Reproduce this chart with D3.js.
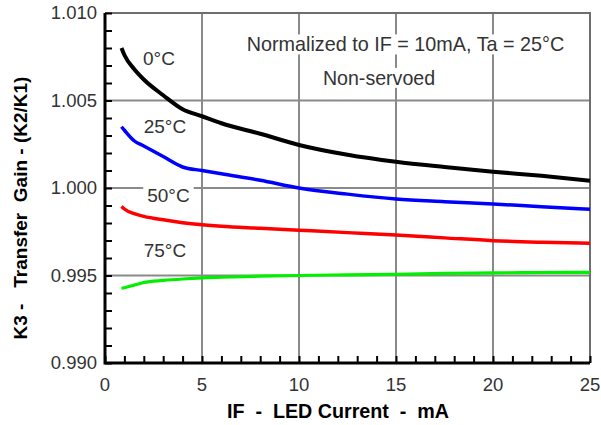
<!DOCTYPE html>
<html><head><meta charset="utf-8">
<script src="https://cdn.jsdelivr.net/npm/d3@7"></script>
<style>
body{margin:0;background:#fff}
svg{display:block}
text{font-family:"Liberation Sans",Arial,Helvetica,sans-serif}
</style>
</head><body>
<svg id="c" width="601" height="425"></svg>
<script>
// ---- data ----
const current = [0.85, 1, 1.5, 2, 3, 4, 5, 6, 8, 10, 12.5, 15, 17.5, 20, 22.5, 25];
const gain0C  = [1.0080, 1.0076, 1.0068, 1.0062, 1.0053, 1.0045, 1.0041, 1.0037, 1.0031, 1.00246, 1.0019, 1.0015, 1.0012, 1.00093, 1.0007, 1.00042];
const gain25C = [1.0035, 1.0033, 1.0027, 1.0024, 1.0018, 1.0012, 1.0010, 1.00081, 1.00044, 1.0000, 0.99965, 0.99937, 0.99922, 0.99909, 0.99893, 0.99878];
const gain50C = [0.99895, 0.9988, 0.99853, 0.99838, 0.99818, 0.99802, 0.9979, 0.99781, 0.9977, 0.99759, 0.99745, 0.99731, 0.99715, 0.99699, 0.9969, 0.99684];
const gain75C = [0.99427, 0.9943, 0.99445, 0.9946, 0.99472, 0.9948, 0.99486, 0.9949, 0.99496, 0.995, 0.99504, 0.99507, 0.99512, 0.99515, 0.99517, 0.99518];
const seriesNames = ["0°C", "25°C", "50°C", "75°C"];
const xTicks = [0, 5, 10, 15, 20, 25];
const yTicks = [0.990, 0.995, 1.000, 1.005, 1.010];
const xTitle = "IF  -  LED Current  -  mA";
const yTitle = "K3 -   Transfer  Gain - (K2/K1)";
const note1 = "Normalized to IF = 10mA, Ta = 25°C";
const note2 = "Non-servoed";

// ---- styling / layout ----
const seriesColors = ["#000000", "#0000ff", "#ff0000", "#00f000"];
const seriesWidths = [4, 3.5, 3.5, 3.2];
const labelPos = [[2.78, 1.00743], [3.09, 1.00351], [3.27, 0.9996], [3.09, 0.99643]];

const svg = d3.select("#c");
const L = 105, R = 590, T = 13, B = 363;
const x = d3.scaleLinear().domain([0, 25]).range([L, R]);
const y = d3.scaleLinear().domain([0.990, 1.010]).range([B, T]);

// grid
const grid = svg.append("g").attr("stroke", "#8a8a8a").attr("stroke-width", 2);
grid.selectAll("line.v").data(xTicks.slice(1, -1)).join("line")
  .attr("x1", d => x(d)).attr("x2", d => x(d)).attr("y1", T).attr("y2", B);
grid.selectAll("line.h").data(yTicks.slice(1, -1)).join("line")
  .attr("y1", d => y(d)).attr("y2", d => y(d)).attr("x1", L).attr("x2", R);

// top/right frame
svg.append("path").attr("d", `M${L},${T}H${R}V${B}`).attr("fill", "none")
  .attr("stroke", "#6e6e6e").attr("stroke-width", 2);

// minor ticks via axes (inward)
const yMinor = d3.range(0, 21).map(i => 0.990 + i * 0.001);
const xMinor = d3.range(0, 26);
const yAx = svg.append("g").attr("transform", `translate(${L},0)`)
  .call(d3.axisLeft(y).tickValues(yMinor).tickSize(-7).tickFormat(""));
yAx.selectAll(".tick line").attr("stroke", "#000").attr("stroke-width", 2);
yAx.select(".domain").remove();
const xAx = svg.append("g").attr("transform", `translate(0,${B})`)
  .call(d3.axisBottom(x).tickValues(xMinor).tickSize(-7).tickFormat(""));
xAx.selectAll(".tick line").attr("stroke", "#000").attr("stroke-width", 2);
xAx.select(".domain").remove();

// left/bottom axis lines
svg.append("path").attr("d", `M${L},${T}V${B}H${R}`).attr("fill", "none")
  .attr("stroke", "#000").attr("stroke-width", 3);

// tick labels
svg.append("g").selectAll("text").data(yTicks).join("text")
  .attr("x", L - 8).attr("y", d => y(d)).attr("dy", "0.35em")
  .attr("text-anchor", "end").attr("font-size", 18.5).attr("fill", "#333")
  .text(d => d3.format(".3f")(d));
svg.append("g").selectAll("text").data(xTicks).join("text")
  .attr("x", d => x(d)).attr("y", B + 28)
  .attr("text-anchor", "middle").attr("font-size", 18.5).attr("fill", "#333")
  .text(d => d);

// axis titles
svg.append("text").attr("x", 338).attr("y", 418).attr("text-anchor", "middle")
  .attr("font-size", 19.7).attr("font-weight", "bold").style("white-space", "pre")
  .text(xTitle);
svg.append("text").attr("transform", "translate(27,208) rotate(-90)")
  .attr("text-anchor", "middle").attr("font-size", 19).attr("font-weight", "bold")
  .style("white-space", "pre").text(yTitle);

// helper: text with white background box
function boxedText(px, py, str, size) {
  const g = svg.append("g");
  const r = g.append("rect").attr("fill", "#fff");
  const t = g.append("text").attr("x", px).attr("y", py).attr("dy", "0.35em")
    .attr("text-anchor", "middle").attr("font-size", size).attr("fill", "#333").text(str);
  const bb = t.node().getBBox();
  r.attr("x", bb.x - 4).attr("y", bb.y + 1).attr("width", bb.width + 8).attr("height", bb.height - 2);
  return g;
}

// annotation
boxedText(405.5, 44.5, note1, 19.8);
boxedText(379, 78, note2, 19.6);

// curves
const seriesData = [gain0C, gain25C, gain50C, gain75C];
const line = d3.line().x(d => x(d[0])).y(d => y(d[1])).curve(d3.curveMonotoneX);
seriesData.forEach((vals, i) => {
  svg.append("path").datum(current.map((c, j) => [c, vals[j]]))
    .attr("fill", "none").attr("stroke", seriesColors[i])
    .attr("stroke-width", seriesWidths[i]).attr("stroke-linejoin", "round")
    .attr("d", line);
});

// series labels
seriesNames.forEach((n, i) => boxedText(x(labelPos[i][0]), y(labelPos[i][1]), n, 19));
</script>
</body></html>
